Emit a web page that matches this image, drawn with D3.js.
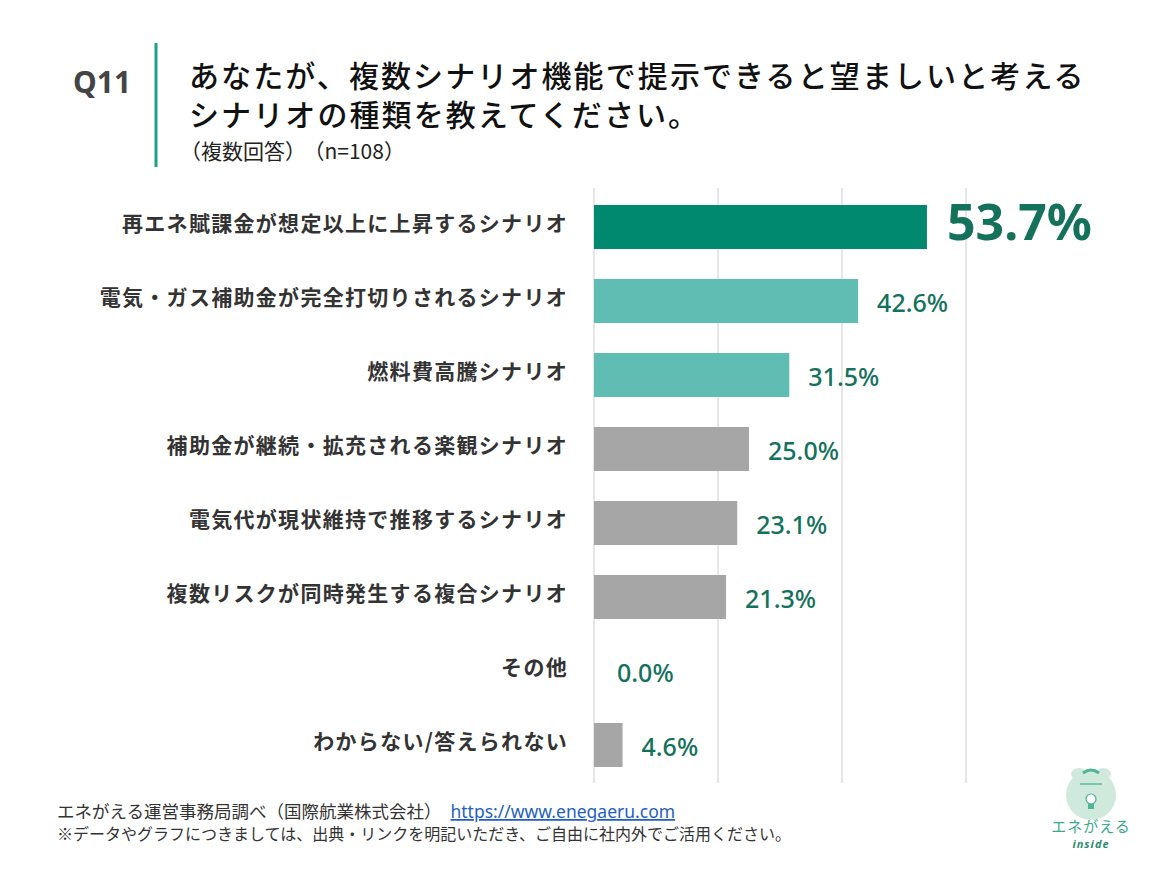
<!DOCTYPE html>
<html><head><meta charset="utf-8">
<script src="https://cdn.jsdelivr.net/npm/d3@7"></script>
<style>
html,body{margin:0;padding:0;background:#fff;}
svg{display:block;font-family:"Noto Sans CJK JP","Noto Sans",sans-serif;}
</style></head>
<body>
<svg id="chart" width="1159" height="869"></svg>
<script>
const categories = [
  "再エネ賦課金が想定以上に上昇するシナリオ",
  "電気・ガス補助金が完全打切りされるシナリオ",
  "燃料費高騰シナリオ",
  "補助金が継続・拡充される楽観シナリオ",
  "電気代が現状維持で推移するシナリオ",
  "複数リスクが同時発生する複合シナリオ",
  "その他",
  "わからない/答えられない"
];
const values = [53.7, 42.6, 31.5, 25.0, 23.1, 21.3, 0.0, 4.6];
const barColors = ["#00896f", "#5fbdb3", "#5fbdb3", "#a6a6a6", "#a6a6a6", "#a6a6a6", "#a6a6a6", "#a6a6a6"];
const gridTicks = [0, 20, 40, 60];
const titleLines = ["あなたが、複数シナリオ機能で提示できると望ましいと考える", "シナリオの種類を教えてください。"];
const subtitleParts = ["（複数回答）", "（n=108）"];
const qLabel = "Q11";
const sourceText = "エネがえる運営事務局調べ（国際航業株式会社）";
const sourceUrl = "https://www.enegaeru.com";
const noteText = "※データやグラフにつきましては、出典・リンクを明記いただき、ご自由に社内外でご活用ください。";

const svg = d3.select("#chart");
const x = d3.scaleLinear().domain([0, 60]).range([594, 966]);
const y = d3.scaleBand().domain(categories).range([190, 782])
  .paddingInner(30/74).paddingOuter(15/74);

// header
svg.append("text").attr("x", 73).attr("y", 93).attr("font-family", "'Noto Sans',sans-serif")
  .attr("font-weight", 700).attr("font-size", 30).attr("fill", "#444").text(qLabel);
svg.append("line").attr("x1", 156).attr("x2", 156).attr("y1", 43).attr("y2", 167)
  .attr("stroke", "#1f9e8c").attr("stroke-width", 3);
const tt = svg.append("text").attr("font-size", 30).attr("font-weight", 500)
  .attr("letter-spacing", 2.1).attr("fill", "#111");
titleLines.forEach((t, i) => {
  tt.append("tspan").attr("x", 189).attr("y", 87 + i * 39).text(t);
});
const st = svg.append("text").attr("x", 180).attr("y", 159).attr("font-size", 21).attr("fill", "#222");
subtitleParts.forEach((t, i) => st.append("tspan").attr("dx", i ? 8 : 0).text(t));

// grid
svg.append("g").selectAll("line").data(gridTicks).join("line")
  .attr("x1", d => x(d)).attr("x2", d => x(d))
  .attr("y1", 188).attr("y2", 783)
  .attr("stroke", "#d9d9d9").attr("stroke-width", 1.3);

// bars
svg.append("g").selectAll("rect").data(values).join("rect")
  .attr("x", x(0)).attr("y", (d, i) => y(categories[i]))
  .attr("width", d => x(d) - x(0)).attr("height", y.bandwidth())
  .attr("fill", (d, i) => barColors[i]);

// category labels
svg.append("g").selectAll("text").data(categories).join("text")
  .attr("x", 568).attr("y", d => y(d) + y.bandwidth() / 2 + 4)
  .attr("text-anchor", "end").attr("font-size", 21).attr("font-weight", 700)
  .attr("letter-spacing", 1.3).attr("fill", "#333").text(d => d);

// value labels
svg.append("g").selectAll("text").data(values).join("text")
  .attr("x", (d, i) => x(d) + (i === 0 ? 20 : (d === 0 ? 23 : 19)))
  .attr("y", (d, i) => y(categories[i]) + y.bandwidth() / 2 + (i === 0 ? 13 : 11))
  .attr("font-family", "'Noto Sans',sans-serif")
  .attr("font-size", (d, i) => i === 0 ? 50 : 25)
  .attr("font-weight", (d, i) => i === 0 ? 700 : 500)
  .attr("fill", "#14715b")
  .text(d => d.toFixed(1) + "%");

// footer
const f1 = svg.append("text").attr("x", 57).attr("y", 818).attr("font-size", 17.5).attr("fill", "#333");
f1.append("tspan").text(sourceText);
f1.append("tspan").attr("dx", 9).attr("fill", "#1f5fbf").attr("text-decoration", "underline")
  .attr("font-family", "'Noto Sans',sans-serif").text(sourceUrl);
svg.append("text").attr("x", 57).attr("y", 840).attr("font-size", 16).attr("fill", "#333").text(noteText);

// logo
const lg = svg.append("g");
lg.append("circle").attr("cx", 1091).attr("cy", 795).attr("r", 25).attr("fill", "#cfe9dc");
lg.append("ellipse").attr("cx", 1079).attr("cy", 774).attr("rx", 8).attr("ry", 6).attr("fill", "#cfe9dc");
lg.append("ellipse").attr("cx", 1103).attr("cy", 774).attr("rx", 8).attr("ry", 6).attr("fill", "#cfe9dc");
lg.append("path").attr("d", "M1083,773 q8,-6 16,0").attr("fill", "none").attr("stroke", "#4fb596").attr("stroke-width", 3);
lg.append("line").attr("x1", 1080).attr("x2", 1102).attr("y1", 784).attr("y2", 784).attr("stroke", "#5fb89d").attr("stroke-width", 1.5);
lg.append("circle").attr("cx", 1091).attr("cy", 799).attr("r", 5).attr("fill", "#fff").attr("stroke", "#4fb596").attr("stroke-width", 1.2);
lg.append("rect").attr("x", 1088).attr("y", 804).attr("width", 6).attr("height", 5).attr("fill", "#4fb596");
lg.append("text").attr("x", 1091).attr("y", 832).attr("text-anchor", "middle").attr("font-size", 15)
  .attr("letter-spacing", 1).attr("fill", "#3aa88a").text("エネがえる");
lg.append("text").attr("x", 1091).attr("y", 848).attr("text-anchor", "middle").attr("font-size", 11)
  .attr("font-style", "italic").attr("font-weight", 700).attr("font-family", "'Noto Sans',sans-serif")
  .attr("letter-spacing", 1).attr("fill", "#2e8a70").text("inside");
</script>
</body></html>
